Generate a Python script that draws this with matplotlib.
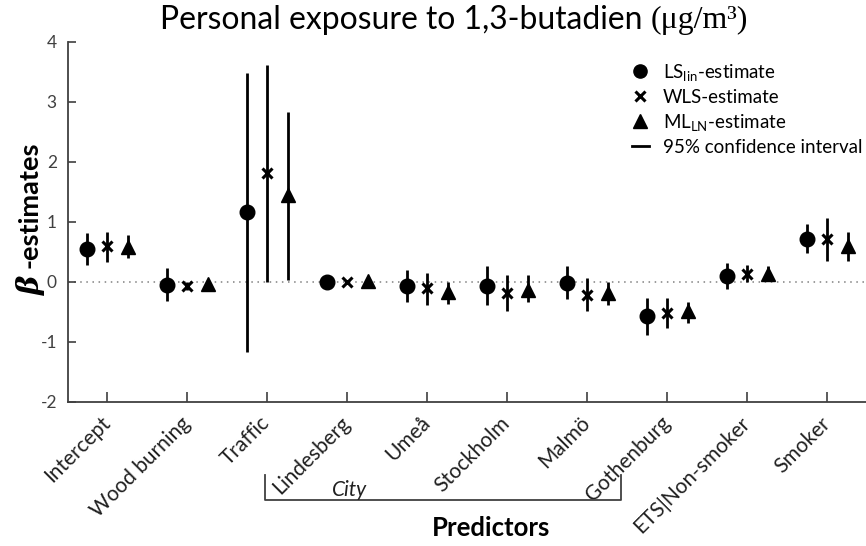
import matplotlib
matplotlib.use("Agg")
import matplotlib.pyplot as plt
import matplotlib.transforms as mtransforms
from matplotlib.lines import Line2D
import numpy as np

plt.rcParams['font.family'] = ['Lato', 'DejaVu Sans']
plt.rcParams['mathtext.fontset'] = 'custom'
plt.rcParams['mathtext.rm'] = 'Lato'
plt.rcParams['mathtext.it'] = 'Lato:italic'
plt.rcParams['mathtext.bf'] = 'Lato:bold'

predictors = ['Intercept', 'Wood burning', 'Traffic', 'Lindesberg', 'Umeå',
              'Stockholm', 'Malmö', 'Gothenburg', 'ETS|Non-smoker', 'Smoker']

ls_est = [0.55, -0.05, 1.17, 0.00, -0.07, -0.06, -0.01, -0.57, 0.10, 0.72]
ls_lo = [0.28, -0.31, -1.17, np.nan, -0.33, -0.39, -0.29, -0.89, -0.11, 0.48]
ls_hi = [0.82, 0.24, 3.49, np.nan, 0.20, 0.27, 0.27, -0.26, 0.32, 0.97]

wls_est = [0.60, -0.07, 1.82, 0.00, -0.10, -0.19, -0.21, -0.51, 0.14, 0.71]
wls_lo = [0.33, -0.13, 0.00, np.nan, -0.38, -0.49, -0.49, -0.77, 0.00, 0.35]
wls_hi = [0.84, 0.00, 3.61, np.nan, 0.15, 0.12, 0.07, -0.27, 0.29, 1.06]

ml_est = [0.58, -0.04, 1.45, 0.01, -0.17, -0.13, -0.18, -0.49, 0.14, 0.60]
ml_lo = [0.40, -0.10, 0.04, np.nan, -0.37, -0.34, -0.39, -0.69, 0.04, 0.35]
ml_hi = [0.78, 0.00, 2.83, np.nan, 0.00, 0.11, 0.00, -0.33, 0.26, 0.83]

yticks = [-2, -1, 0, 1, 2, 3, 4]

W, H = 866, 546
fig = plt.figure(figsize=(W / 100, H / 100), dpi=100)
ax = fig.add_axes([68 / W, 144 / H, (W - 68) / W, (402 - 42) / H])

x = np.arange(1, len(predictors) + 1)
ax.axhline(0, color='#808080', lw=1.1, ls=(0, (1, 3)), zorder=1)

series = [
    (ls_est, ls_lo, ls_hi, -0.25, 'o', 10.5, 1),
    (wls_est, wls_lo, wls_hi, 0.0, 'x', 7.5, 2.2),
    (ml_est, ml_lo, ml_hi, 0.26, '^', 10, 1),
]
for est, lo, hi, off, mk, ms, mew in series:
    xs = x + off
    ax.vlines(xs, lo, hi, color='black', lw=2.0, zorder=2)
    ax.plot(xs, est, ls='none', marker=mk, ms=ms, mew=mew, color='black',
            zorder=3)

ax.set_xlim(0.5125, 10.4875)
ax.set_ylim(-2, 4)
ax.set_yticks(yticks)
ax.set_yticklabels([str(v) for v in yticks])
ax.set_xticks(x)
ax.set_xticklabels(predictors, rotation=45, ha='right', va='center',
                   rotation_mode='anchor', fontsize=15, color='#202020')
ax.tick_params(axis='x', direction='in', length=7, width=1.2, pad=13,
               colors='#404040', labelcolor='#202020')
ax.tick_params(axis='y', direction='in', length=6, width=1.2, pad=8,
               labelsize=12.5, colors='#404040', labelcolor='#404040')
for s in ['top', 'right']:
    ax.spines[s].set_visible(False)
for s in ['left', 'bottom']:
    ax.spines[s].set_color('#404040')
    ax.spines[s].set_linewidth(1.3)

# Title: sans part + serif unit part
renderer = fig.canvas.get_renderer()
t1 = fig.text(0, 1 - 20 / H, 'Personal exposure to 1,3-butadien ', fontsize=21,
              ha='left', va='center')
w1 = t1.get_window_extent(renderer).width
fs = 21 * 490 / w1
t1.set_fontsize(fs)
w1 = t1.get_window_extent(renderer).width
t2 = fig.text(0, 1 - 20 / H, '(μg/m³)', fontsize=fs * 1.0,
              family='Liberation Serif', ha='left', va='center')
x0 = 160
t1.set_x(x0 / W)
t2.set_x((x0 + w1) / W)

# Y label: italic bold beta + bold sans
fig.text(30 / W, 1 - 268 / H, '-estimates', weight='bold', fontsize=19.5,
         rotation=90, ha='center', va='bottom')
fig.text(31 / W, 1 - 276 / H, 'β', family='DejaVu Serif', style='italic',
         weight='bold', fontsize=21, rotation=90, ha='center', va='top')

# X label
fig.text(491 / W, 1 - 528 / H, 'Predictors', weight='bold', fontsize=18.5,
         ha='center', va='center')

# City bracket
trans = mtransforms.blended_transform_factory(ax.transData, fig.transFigure)
bx0, bx1 = 2.975, 7.42
ytop, ybot = 1 - 475 / H, 1 - 500 / H
fig.add_artist(Line2D([bx0, bx0, bx1, bx1], [ytop, ybot, ybot, ytop],
                      transform=trans, color='#404040', lw=1.3))
fig.text(350 / W, 1 - 490 / H, 'City', style='italic', fontsize=15,
         ha='center', va='center', color='#202020')

# Legend
handles = [
    Line2D([], [], ls='none', marker='o', ms=9.5, color='black'),
    Line2D([], [], ls='none', marker='x', ms=7, mew=2.2, color='black'),
    Line2D([], [], ls='none', marker='^', ms=9.5, color='black'),
    Line2D([], [], color='black', lw=2),
]
labels = [r'LS$_{\mathrm{lin}}$-estimate', 'WLS-estimate',
          r'ML$_{\mathrm{LN}}$-estimate', '95% confidence interval']
fig.legend(handles, labels, loc='upper left',
           bbox_to_anchor=(632 / W, 1 - 62 / H), frameon=False, fontsize=13.5,
           handlelength=0.9, handletextpad=0.75, labelspacing=0.32,
           borderpad=0, borderaxespad=0)

fig.savefig('out.png', dpi=100)
